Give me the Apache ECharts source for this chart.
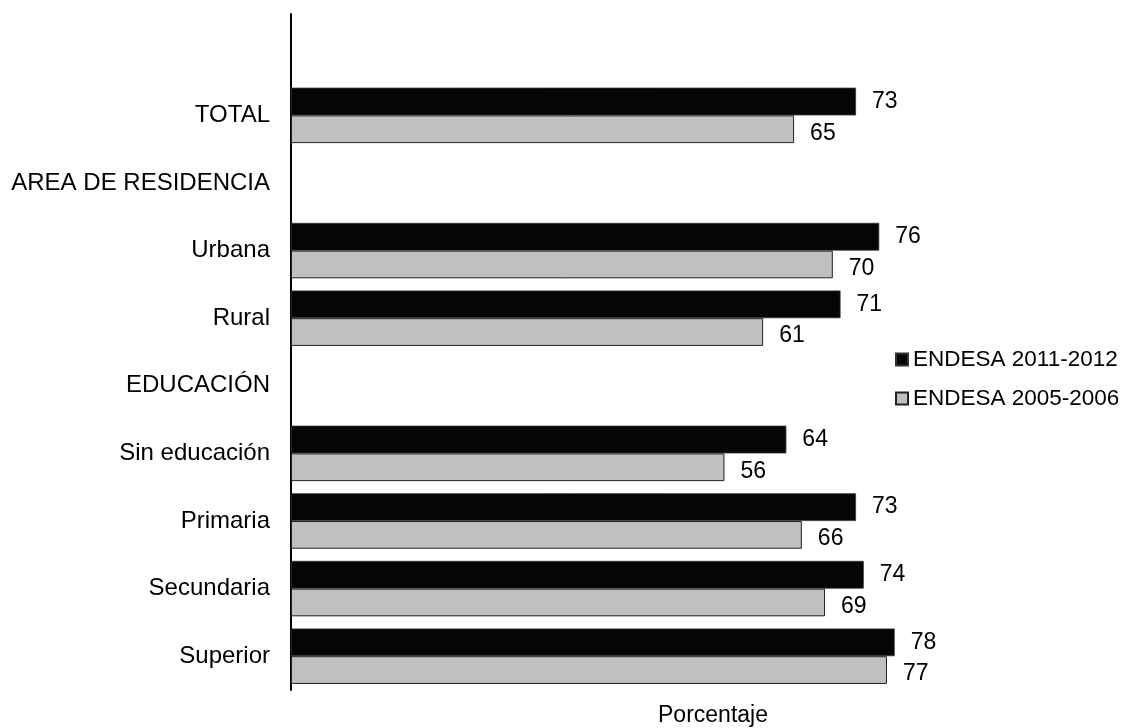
<!DOCTYPE html>
<html><head><meta charset="utf-8">
<script src="https://cdn.jsdelivr.net/npm/echarts@6/dist/echarts.min.js"></script>
<style>html,body{margin:0;padding:0;background:#fff}#c{width:1131px;height:728px}</style>
</head><body><div id="c"></div>
<script>
const categories = ['', 'TOTAL', 'AREA DE RESIDENCIA', 'Urbana', 'Rural', 'EDUCACIÓN', 'Sin educación', 'Primaria', 'Secundaria', 'Superior'];
const series2011 = [null, 73, null, 76, 71, null, 64, 73, 74, 78];
const series2005 = [null, 65, null, 70, 61, null, 56, 66, 69, 77];
const seriesNames = ['ENDESA 2011-2012', 'ENDESA 2005-2006'];
const axisName = 'Porcentaje';

const font = 'Arial, "Liberation Sans", sans-serif';
const FS = 23;
const chart = echarts.init(document.getElementById('c'));
chart.setOption({
  animation: false,
  textStyle: {fontFamily: font},
  grid: {left: 291, right: 66, top: 14, bottom: 38, containLabel: false, outerBoundsMode: 'none'},
  legend: {
    orient: 'vertical', left: 890, top: 343, itemGap: 16, itemWidth: 12, itemHeight: 12,
    icon: 'rect', textStyle: {fontSize: 22.5, color: '#000', fontFamily: font},
    data: seriesNames
  },
  xAxis: {
    type: 'value', min: 0, max: 100,
    name: axisName, nameLocation: 'middle', nameGap: 14,
    nameTextStyle: {fontSize: FS, color: '#000', fontFamily: font, padding: [0, 0, 0, 70]},
    axisLine: {show: false}, axisTick: {show: false}, axisLabel: {show: false}, splitLine: {show: false}
  },
  yAxis: {
    type: 'category', inverse: true, data: categories,
    axisLine: {show: true, lineStyle: {color: '#000', width: 2}},
    axisTick: {show: false},
    axisLabel: {fontSize: 24, color: '#000', margin: 21, fontFamily: font}
  },
  series: [
    {name: seriesNames[0], type: 'bar', data: series2011, barGap: '0%', barCategoryGap: '18%',
     itemStyle: {color: '#050505', borderColor: '#333', borderWidth: 0.8},
     label: {show: true, position: 'right', distance: 16, color: '#000', fontSize: FS, fontFamily: font}},
    {name: seriesNames[1], type: 'bar', data: series2005,
     itemStyle: {color: '#c0c0c0', borderColor: '#222', borderWidth: 1},
     label: {show: true, position: 'right', distance: 16, offset: [0, 4], color: '#000', fontSize: FS, fontFamily: font}}
  ]
});
</script></body></html>
